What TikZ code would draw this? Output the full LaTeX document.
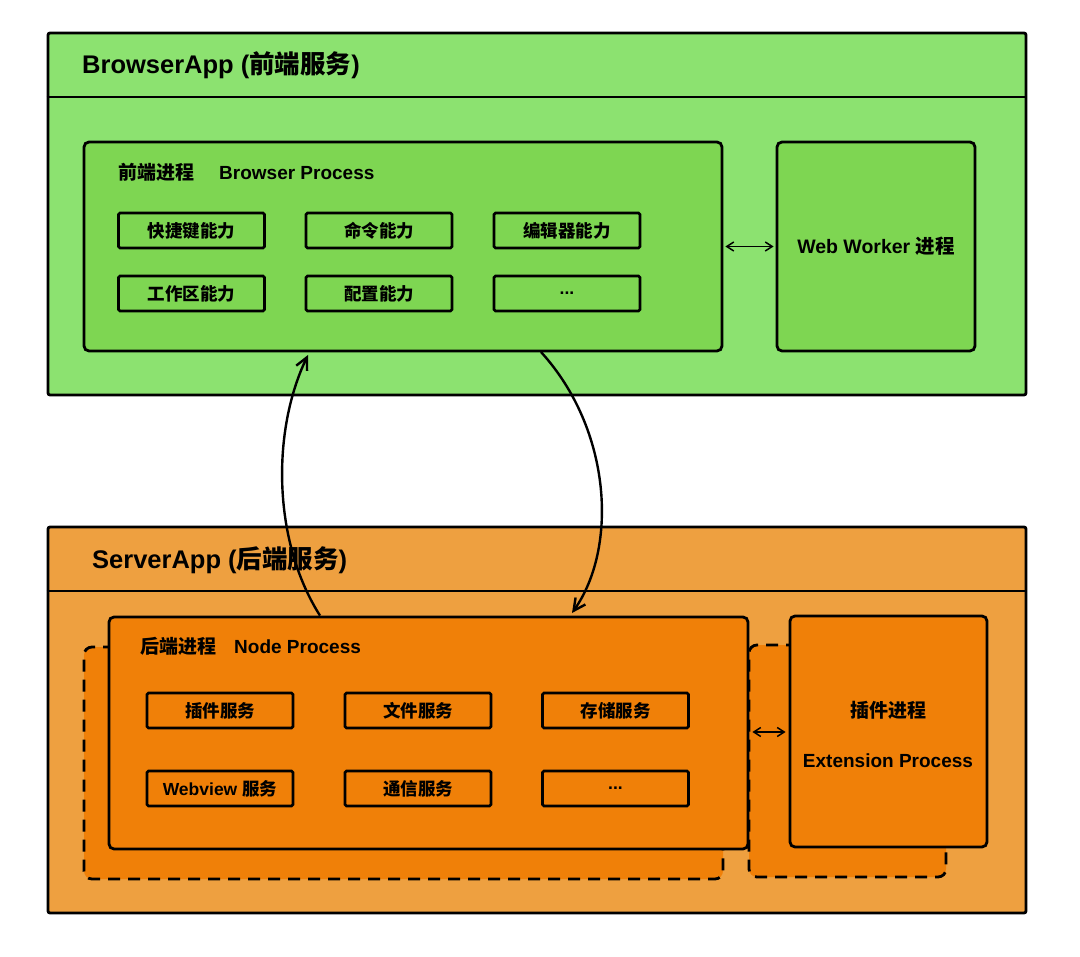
\documentclass[tikz,border=0pt]{standalone}
\usepackage{fontspec}
\setmainfont{Liberation Sans}
\newfontfamily\cjk{Noto Sans CJK SC}
\usetikzlibrary{arrows.meta}
\definecolor{gOuter}{RGB}{140,226,112}
\definecolor{gInner}{RGB}{126,214,82}
\definecolor{oOuter}{RGB}{238,160,64}
\definecolor{oInner}{RGB}{240,128,8}
\tikzset{
  outerbox/.style={draw=black, line width=2.8pt, rounded corners=2pt, inner sep=0pt},
  procbox/.style={draw=black, line width=2.8pt, rounded corners=5pt, inner sep=0pt},
  dashbox/.style={draw=black, line width=2.8pt, rounded corners=8pt, dash pattern=on 12pt off 8pt, inner sep=0pt},
  capbox/.style={draw=black, line width=2.8pt, rounded corners=1.5pt, minimum width=146pt, minimum height=35pt, inner sep=0pt, font=\bfseries\fontsize{17.5}{20}\selectfont},
  sidebox/.style={draw=black, line width=2.8pt, rounded corners=5pt, inner sep=0pt, align=center, font=\bfseries\fontsize{19.5}{22}\selectfont},
  titletext/.style={anchor=west, inner sep=0pt, font=\bfseries\fontsize{25.5}{30}\selectfont},
  subtext/.style={anchor=west, inner sep=0pt, font=\bfseries\fontsize{19}{22}\selectfont},
  dblarrow/.style={line width=1.5pt, {Straight Barb[length=7pt,width=9pt]}-{Straight Barb[length=7pt,width=9pt]}},
  bigarrow/.style={line width=2.4pt, -{Straight Barb[length=12pt,width=12pt]}}
}
\begin{document}
\begin{tikzpicture}[x=1pt,y=-1pt]
\useasboundingbox (0,0) rectangle (1080,957);
\fill[white] (0,0) rectangle (1080,957);

% ---------- Browser app ----------
\node[outerbox, fill=gOuter, minimum width=978pt, minimum height=362pt] (ga) at (537,214) {};
\coordinate (gh) at (0,97);
\draw[line width=2.8pt] (ga.west |- gh) -- (ga.east |- gh);
\node[titletext] (gatitle) at (82,65) {BrowserApp ({\cjk 前端服务})};

\node[procbox, fill=gInner, minimum width=638pt, minimum height=209pt] (bp) at (403,246.5) {};
\node[subtext] (bptitle) at (118,172) {{\cjk 前端进程}\hspace{25pt}Browser Process};

\node[capbox] (b1) at (191.5,230.5) {\cjk 快捷键能力};
\node[capbox] (b2) at (379,230.5) {\cjk 命令能力};
\node[capbox] (b3) at (567,230.5) {\cjk 编辑器能力};
\node[capbox] (b4) at (191.5,293.5) {\cjk 工作区能力};
\node[capbox] (b5) at (379,293.5) {\cjk 配置能力};
\node[capbox] (b6) at (567,293.5) {...};

\node[sidebox, fill=gInner, minimum width=198pt, minimum height=209pt] (ww) at (876,246.5) {Web Worker {\cjk 进程}};
\draw[dblarrow, shorten <=2pt, shorten >=2pt] (bp.east) -- (ww.west);

% ---------- Server app ----------
\node[outerbox, fill=oOuter, minimum width=978pt, minimum height=386pt] (oa) at (537,720) {};
\coordinate (oh) at (0,591);
\draw[line width=2.8pt] (oa.west |- oh) -- (oa.east |- oh);
\node[titletext] (oatitle) at (92,560) {ServerApp ({\cjk 后端服务})};

\node[dashbox, fill=oInner, minimum width=639pt, minimum height=232pt] (npd) at (403.5,763) {};
\node[dashbox, fill=oInner, minimum width=197pt, minimum height=232pt] (exd) at (847.5,761) {};

\node[procbox, fill=oInner, minimum width=639pt, minimum height=232pt] (np) at (428.5,733) {};
\node[subtext] (nptitle) at (140,646) {{\cjk 后端进程}\hspace{18pt}Node Process};

\node[capbox] (s1) at (220,710.5) {\cjk 插件服务};
\node[capbox] (s2) at (418,710.5) {\cjk 文件服务};
\node[capbox] (s3) at (615.5,710.5) {\cjk 存储服务};
\node[capbox] (s4) at (220,788.5) {Webview {\cjk 服务}};
\node[capbox] (s5) at (418,788.5) {\cjk 通信服务};
\node[capbox] (s6) at (615.5,788.5) {...};

\node[sidebox, fill=oInner, minimum width=197pt, minimum height=231pt] (ex) at (888.5,731.5) {};
\node[inner sep=0pt, font=\bfseries\fontsize{19}{22}\selectfont] (ext1) at (888,710) {\cjk 插件进程};
\node[inner sep=0pt, font=\bfseries\fontsize{19}{22}\selectfont] (ext2) at (888,761) {Extension Process};

\coordinate (dy) at (0,732);
\draw[dblarrow, shorten <=3pt, shorten >=3pt] (np.east |- dy) -- (ex.west |- dy);

% ---------- curved connectors ----------
\coordinate (c1a) at (320,617);
\coordinate (c1b) at (308,355);
\draw[bigarrow] (np.north -| c1a) .. controls (272,540) and (272,430) .. (c1b);
\coordinate (c2a) at (541,352);
\coordinate (c2b) at (572,613);
\draw[bigarrow] (c2a) .. controls (612,430) and (618,548) .. (c2b);
\end{tikzpicture}
\end{document}
